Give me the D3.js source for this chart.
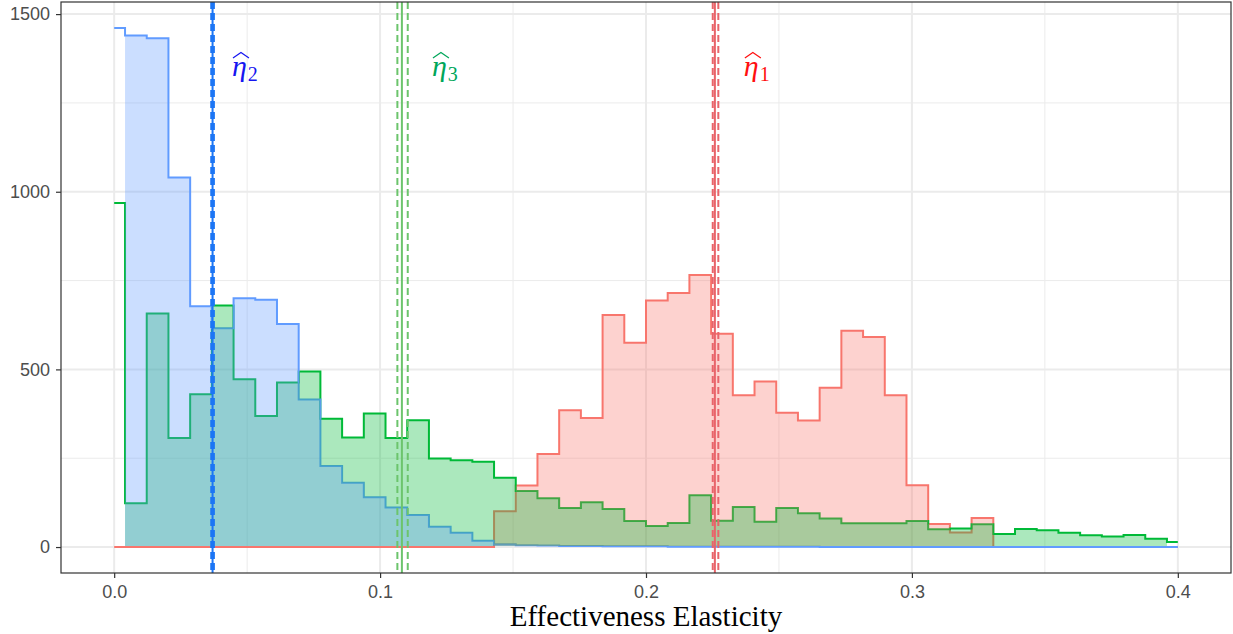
<!DOCTYPE html>
<html>
<head>
<meta charset="utf-8">
<script src="https://cdn.jsdelivr.net/npm/d3@7"></script>
<style>
  body { margin: 0; background: #fff; }
</style>
</head>
<body>
<svg id="chart" width="1233" height="634"></svg>
<script>
// histogram counts, 50 bins centred on 0, w, 2w, ... 0.4
const nBins = 50;
const binWidth = 0.4 / (nBins - 1);
const binCenters = d3.range(nBins).map(i => i * binWidth);

const etaOne = [
  0, 0, 0, 0, 0, 0, 0, 0, 0, 0,
  0, 0, 0, 0, 0, 0, 0, 0, 101, 173,
  262, 385, 363, 653, 575, 694, 715, 766, 600, 427,
  466, 378, 356, 448, 609, 591, 427, 174, 65, 41,
  82, 0, 0, 0, 0, 0, 0, 0, 0, 0
];
const etaThree = [
  968, 123, 657, 307, 430, 680, 472, 369, 463, 494,
  361, 308, 376, 307, 357, 249, 244, 240, 195, 158,
  137, 110, 126, 107, 73, 59, 68, 146, 74, 113,
  71, 110, 95, 80, 67, 67, 67, 73, 50, 52,
  64, 37, 51, 47, 40, 33, 30, 34, 23, 14
];
const etaTwo = [
  1461, 1440, 1432, 1040, 678, 616, 700, 696, 628, 415,
  228, 181, 140, 111, 90, 57, 40, 18, 8, 5,
  4, 3, 3, 2, 2, 2, 1, 1, 1, 1,
  1, 1, 1, 0, 0, 0, 0, 0, 0, 0,
  0, 0, 0, 0, 0, 0, 0, 0, 0, 0
];

// point estimates and their interval bounds
const estNames = ["1", "2", "3"];
const estValues = [0.2259, 0.0370, 0.1082];
const estLower = [0.2251, 0.0365, 0.1065];
const estUpper = [0.2272, 0.0375, 0.1104];
const labelX = [0.2368, 0.0443, 0.1195];

const xTicks = [0, 0.1, 0.2, 0.3, 0.4];
const xMinor = [0.05, 0.15, 0.25, 0.35];
const yTicks = [0, 500, 1000, 1500];
const yMinor = [250, 750, 1250];

const histColors = { "1": "#F8766D", "2": "#619CFF", "3": "#00BA38" };
const lineColors = { "1": "#e8646a", "2": "#1c76f5", "3": "#6cc46c" };
const labelColors = { "1": "#ff1010", "2": "#1515f0", "3": "#00a65a" };

const series = [
  { key: "1", counts: etaOne },
  { key: "3", counts: etaThree },
  { key: "2", counts: etaTwo }
];

const svg = d3.select("#chart");
const pLeft = 61, pRight = 1231, pTop = 2, pBottom = 573;

const yMax = d3.max(series, s => d3.max(s.counts));
const x = d3.scaleLinear().domain([-0.02, 0.42]).range([pLeft, pRight]);
const y = d3.scaleLinear().domain([-0.05 * yMax, 1.05 * yMax]).range([pBottom, pTop]);

svg.append("defs").append("clipPath").attr("id", "panel")
  .append("rect")
  .attr("x", pLeft).attr("y", pTop)
  .attr("width", pRight - pLeft).attr("height", pBottom - pTop);

// grid
const grid = svg.append("g");
grid.selectAll("line.xminor").data(xMinor).join("line")
  .attr("x1", d => x(d)).attr("x2", d => x(d))
  .attr("y1", pTop).attr("y2", pBottom)
  .attr("stroke", "#ebebeb").attr("stroke-width", 1);
grid.selectAll("line.yminor").data(yMinor).join("line")
  .attr("x1", pLeft).attr("x2", pRight)
  .attr("y1", d => y(d)).attr("y2", d => y(d))
  .attr("stroke", "#ebebeb").attr("stroke-width", 1);
grid.selectAll("line.xmajor").data(xTicks).join("line")
  .attr("x1", d => x(d)).attr("x2", d => x(d))
  .attr("y1", pTop).attr("y2", pBottom)
  .attr("stroke", "#ebebeb").attr("stroke-width", 2);
grid.selectAll("line.ymajor").data(yTicks).join("line")
  .attr("x1", pLeft).attr("x2", pRight)
  .attr("y1", d => y(d)).attr("y2", d => y(d))
  .attr("stroke", "#ebebeb").attr("stroke-width", 2);

const plot = svg.append("g").attr("clip-path", "url(#panel)");

// step outline through the bin centres
function outlinePath(counts) {
  let p = "M" + x(binCenters[0]) + "," + y(counts[0]);
  for (let i = 1; i < counts.length; i++) {
    p += "H" + x(binCenters[i] - binWidth / 2) + "V" + y(counts[i]);
  }
  p += "H" + x(binCenters[counts.length - 1]);
  return p;
}
// filled area only over the full bins, stopping just above the zero line
function fillPath(counts) {
  const base = y(0) - 1;
  let p = "M" + x(binCenters[1] - binWidth / 2) + "," + base;
  for (let i = 1; i < counts.length - 1; i++) {
    p += "V" + Math.min(base, y(counts[i])) + "H" + x(binCenters[i] + binWidth / 2);
  }
  p += "V" + base + "Z";
  return p;
}

plot.selectAll("path.outline").data(series).join("path")
  .attr("class", "outline")
  .attr("d", d => outlinePath(d.counts))
  .attr("fill", "none")
  .attr("stroke", d => histColors[d.key])
  .attr("stroke-width", 2);

plot.selectAll("path.area").data(series).join("path")
  .attr("class", "area")
  .attr("d", d => fillPath(d.counts))
  .attr("fill", d => histColors[d.key])
  .attr("fill-opacity", 0.33);

// estimate lines
const est = estNames.map((k, i) => ({ key: k, est: estValues[i], lo: estLower[i], hi: estUpper[i], lx: labelX[i] }));
est.forEach(e => {
  [e.lo, e.hi].forEach(v => {
    plot.append("line")
      .attr("x1", x(v)).attr("x2", x(v))
      .attr("y1", pTop).attr("y2", pBottom)
      .attr("stroke", lineColors[e.key])
      .attr("stroke-width", 2)
      .attr("stroke-dasharray", "7,4");
  });
  plot.append("line")
    .attr("x1", x(e.est)).attr("x2", x(e.est))
    .attr("y1", pTop).attr("y2", pBottom)
    .attr("stroke", lineColors[e.key])
    .attr("stroke-width", 2);
});

// labels: eta hat with subscript
est.forEach(e => {
  const lx = x(e.lx);
  const t = svg.append("text")
    .attr("x", lx).attr("y", 76)
    .attr("fill", labelColors[e.key])
    .style("font-family", "'Liberation Serif', 'DejaVu Serif', serif")
    .style("font-size", "30px");
  t.append("tspan").style("font-style", "italic").text("η");
  t.append("tspan").attr("dy", 5).attr("dx", 1).style("font-size", "20px").text(e.key);
  svg.append("path")
    .attr("d", "M" + (lx + 1) + "," + 58 + "L" + (lx + 9) + "," + 52.5 + "L" + (lx + 17) + "," + 58)
    .attr("fill", "none")
    .attr("stroke", labelColors[e.key])
    .attr("stroke-width", 1.2);
});

// panel border
svg.append("rect")
  .attr("x", pLeft).attr("y", pTop)
  .attr("width", pRight - pLeft).attr("height", pBottom - pTop)
  .attr("fill", "none").attr("stroke", "#333").attr("stroke-width", 1.2);

// axes
const yAxis = svg.append("g").attr("transform", `translate(${pLeft},0)`)
  .call(d3.axisLeft(y).tickValues(yTicks).tickSize(5).tickPadding(6).tickFormat(d3.format("d")));
const xAxis = svg.append("g").attr("transform", `translate(0,${pBottom})`)
  .call(d3.axisBottom(x).tickValues(xTicks).tickSize(5).tickPadding(7).tickFormat(d3.format(".1f")));
[xAxis, yAxis].forEach(a => {
  a.select(".domain").remove();
  a.selectAll(".tick line").attr("stroke", "#333").attr("stroke-width", 1.2);
  a.selectAll(".tick text")
    .attr("fill", "#4d4d4d")
    .style("font-family", "'Liberation Sans', Arial, sans-serif")
    .style("font-size", "18px");
});

svg.append("text")
  .attr("x", (pLeft + pRight) / 2).attr("y", 626)
  .attr("text-anchor", "middle")
  .style("font-family", "'Liberation Serif', 'DejaVu Serif', serif")
  .style("font-size", "29px")
  .attr("fill", "#000")
  .text("Effectiveness Elasticity");
</script>
</body>
</html>
